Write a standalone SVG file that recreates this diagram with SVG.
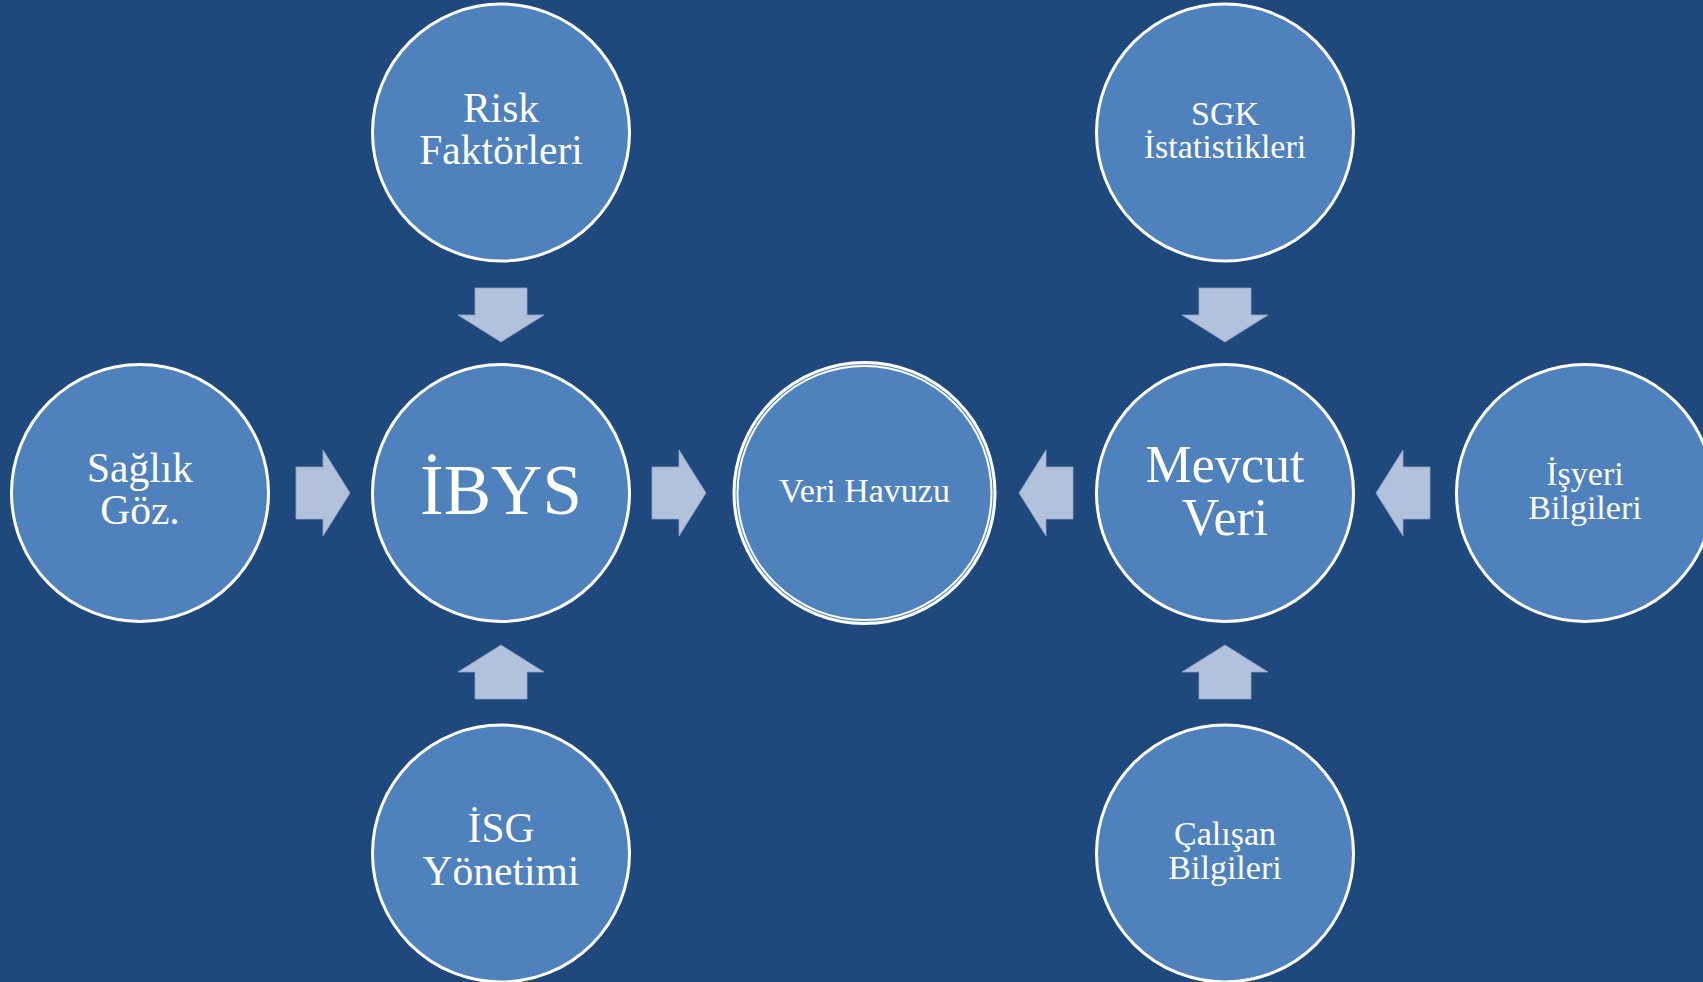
<svg xmlns="http://www.w3.org/2000/svg" xmlns:xlink="http://www.w3.org/1999/xlink" width="1703" height="982" viewBox="0 0 1703 982">
<style>
.node{fill:#4F81BD;stroke:#FFFFFF;stroke-width:3}
.node2{fill:none;stroke:#FFFFFF;stroke-width:2}
.t{font-family:"Liberation Serif","Times New Roman",serif;fill:#FFFFFF;text-anchor:middle}
.arr{fill:#B3C2DC;stroke:#8FA3C6;stroke-width:0.8}
</style>
<defs>
<path id="arrow" d="M-27,-26 H0 V-43 L27,0 L0,43 V26 H-27 Z"/>
</defs>
<rect x="0" y="0" width="1703" height="982" fill="#1F497D"/>
<g id="connectors" class="arr">
<use xlink:href="#arrow" href="#arrow" transform="translate(323,493)"/>
<use xlink:href="#arrow" href="#arrow" transform="translate(679,493)"/>
<use xlink:href="#arrow" href="#arrow" transform="translate(1046,493) rotate(180)"/>
<use xlink:href="#arrow" href="#arrow" transform="translate(1403,493) rotate(180)"/>
<use xlink:href="#arrow" href="#arrow" transform="translate(501,315) rotate(90)"/>
<use xlink:href="#arrow" href="#arrow" transform="translate(1225,315) rotate(90)"/>
<use xlink:href="#arrow" href="#arrow" transform="translate(501,672) rotate(-90)"/>
<use xlink:href="#arrow" href="#arrow" transform="translate(1225,672) rotate(-90)"/>
</g>
<g id="risk">
<circle class="node" cx="501" cy="132.5" r="128.5"/>
<text class="t" font-size="41.5" x="501" y="121.7">Risk</text>
<text class="t" font-size="41.5" x="501" y="164.3">Faktörleri</text>
</g>
<g id="saglik">
<circle class="node" cx="140" cy="493" r="128.5"/>
<text class="t" font-size="41.5" x="140" y="481.7">Sağlık</text>
<text class="t" font-size="41.5" x="140" y="524.3">Göz.</text>
</g>
<g id="ibys">
<circle class="node" cx="501" cy="493" r="128.5"/>
<text class="t" font-size="71" x="501" y="513.7">İBYS</text>
</g>
<g id="veri-havuzu">
<circle class="node" cx="864.5" cy="493" r="130.5"/>
<circle class="node2" cx="864.5" cy="493" r="127"/>
<text class="t" font-size="34" x="864.5" y="502">Veri Havuzu</text>
</g>
<g id="mevcut-veri">
<circle class="node" cx="1225" cy="493" r="128.5"/>
<text class="t" font-size="52" x="1225" y="482.3">Mevcut</text>
<text class="t" font-size="52" x="1225" y="535">Veri</text>
</g>
<g id="sgk">
<circle class="node" cx="1225" cy="132.5" r="128.5"/>
<text class="t" font-size="34" x="1225" y="125">SGK</text>
<text class="t" font-size="34" x="1225" y="158.3">İstatistikleri</text>
</g>
<g id="isyeri">
<circle class="node" cx="1585" cy="493" r="128.5"/>
<text class="t" font-size="34" x="1585" y="485">İşyeri</text>
<text class="t" font-size="34" x="1585" y="519.3">Bilgileri</text>
</g>
<g id="isg">
<circle class="node" cx="501" cy="853.5" r="128.5"/>
<text class="t" font-size="41.5" x="501" y="842">İSG</text>
<text class="t" font-size="41.5" x="501" y="885.3">Yönetimi</text>
</g>
<g id="calisan">
<circle class="node" cx="1225" cy="853.5" r="128.5"/>
<text class="t" font-size="34" x="1225" y="845.3">Çalışan</text>
<text class="t" font-size="34" x="1225" y="879.3">Bilgileri</text>
</g>
</svg>
